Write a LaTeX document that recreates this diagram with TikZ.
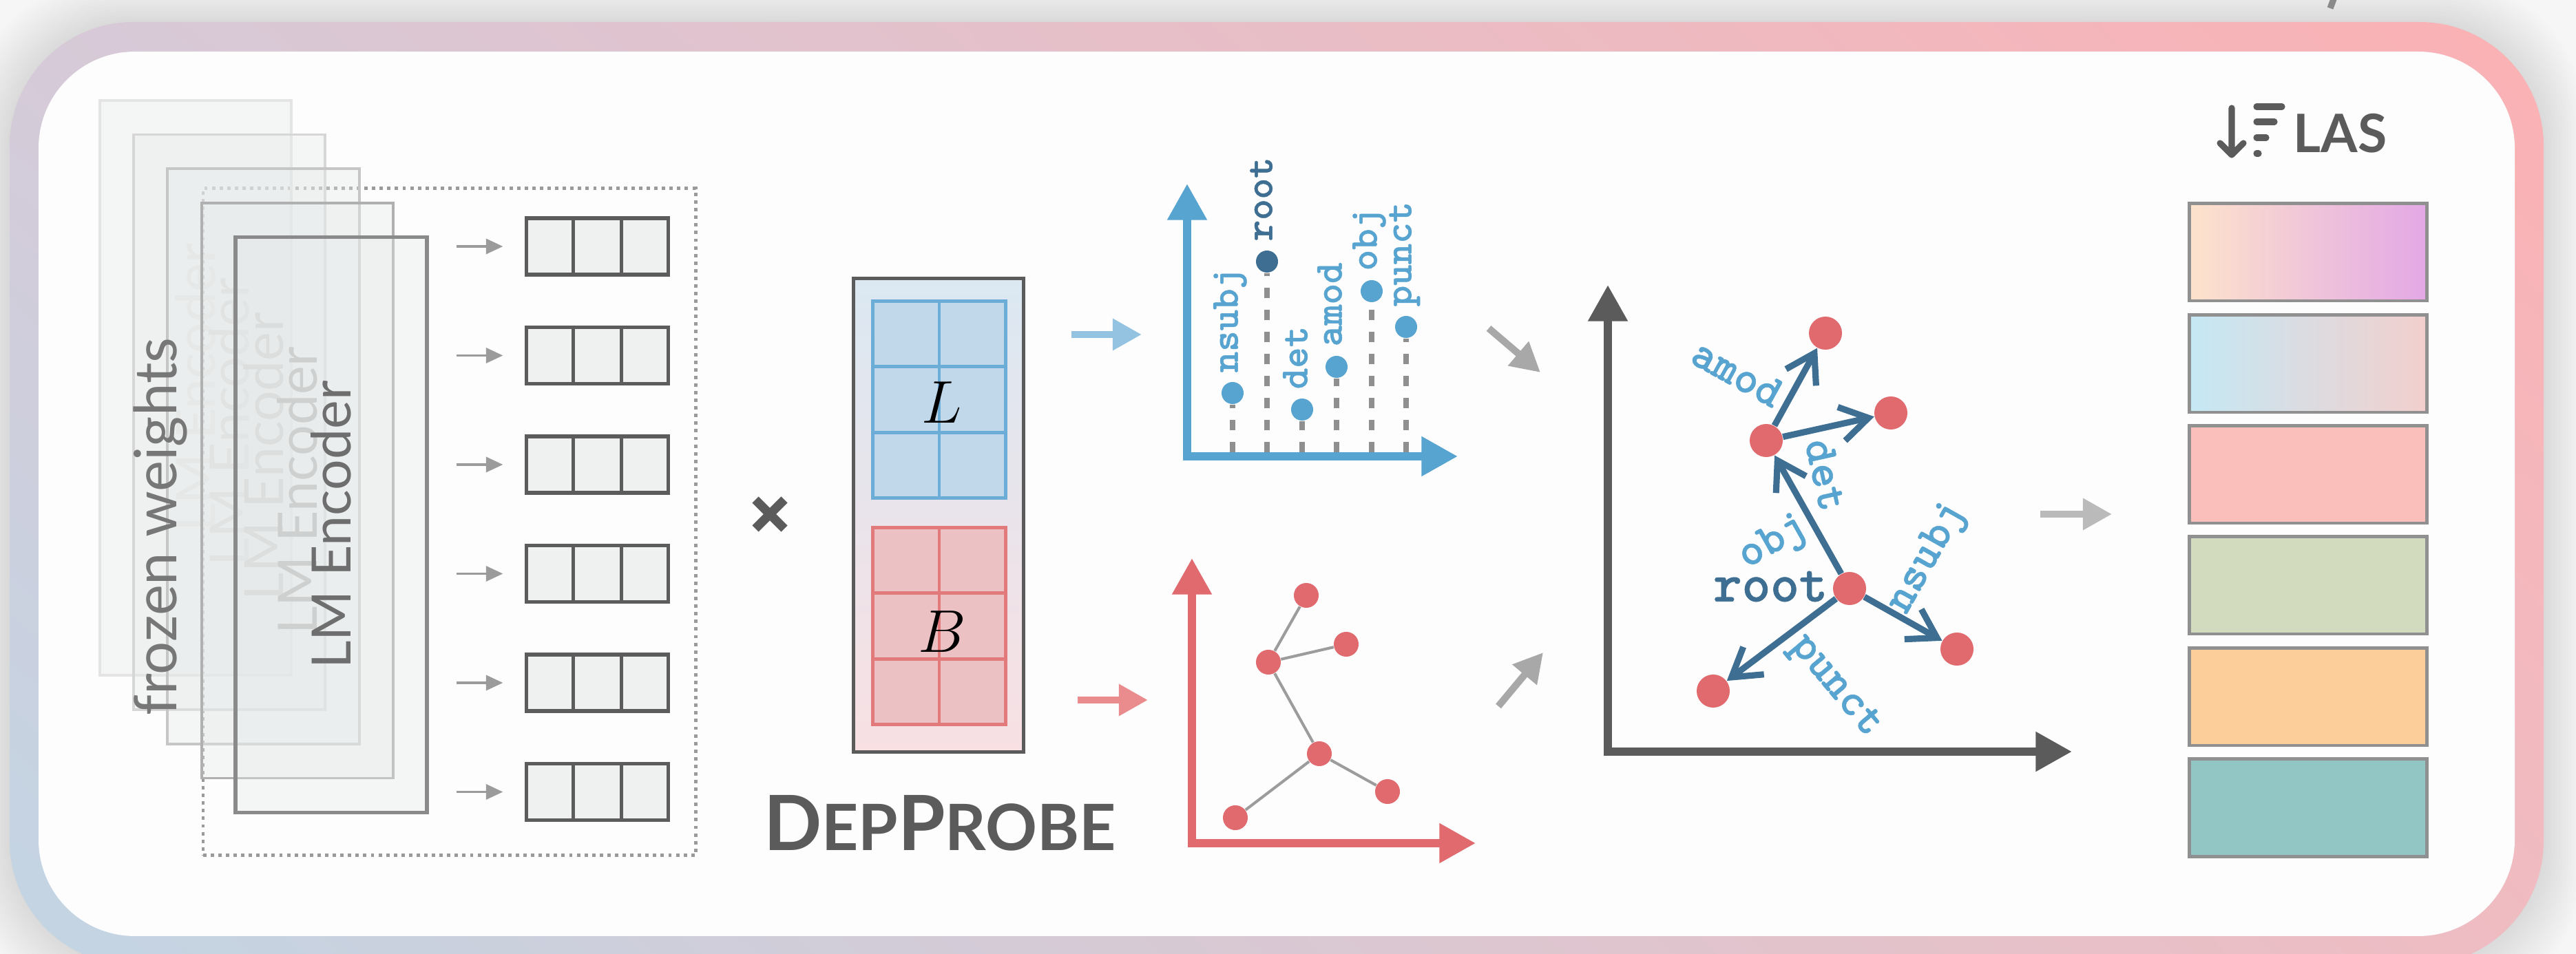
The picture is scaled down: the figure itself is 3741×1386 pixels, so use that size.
\documentclass[tikz,border=0pt]{standalone}
\usepackage{fontspec}
\newfontfamily\lato{Lato}
\newfontfamily\cour[FakeBold=0.8]{lmmonolt10-bold.otf}
\usetikzlibrary{arrows.meta,calc,shadings}
\definecolor{bgc}{HTML}{F6F6F6}
\definecolor{inwhite}{HTML}{FDFDFD}
\definecolor{fTL}{HTML}{D6CAD8}
\definecolor{fTR}{HTML}{FBB1B4}
\definecolor{fBL}{HTML}{C2D5E4}
\definecolor{fBR}{HTML}{EFBCC2}
\definecolor{encfill}{HTML}{E6E9E9}
\definecolor{enc0d}{HTML}{E4E4E4}\definecolor{enc0t}{HTML}{E8E8E8}
\definecolor{enc1d}{HTML}{D6D6D6}\definecolor{enc1t}{HTML}{DCDCDC}
\definecolor{enc2d}{HTML}{C6C6C6}\definecolor{enc2t}{HTML}{D0D0D0}
\definecolor{enc3d}{HTML}{B0B0B0}\definecolor{enc3t}{HTML}{C2C2C2}
\definecolor{enc4d}{HTML}{8A8A8A}\definecolor{enc4t}{HTML}{6E6E6E}
\definecolor{frozen}{HTML}{777777}
\definecolor{tokdraw}{HTML}{5C5C5C}
\definecolor{tokfill}{HTML}{EFF0F0}
\definecolor{smallarr}{HTML}{9B9B9B}
\definecolor{dotbox}{HTML}{9A9A9A}
\definecolor{darkg}{HTML}{5B5B5B}
\definecolor{matTop}{HTML}{DBE8F2}
\definecolor{matBot}{HTML}{F8E0E3}
\definecolor{Lfill}{HTML}{C1D8EA}
\definecolor{Ldraw}{HTML}{6BADD6}
\definecolor{Bfill}{HTML}{ECC1C4}
\definecolor{Bdraw}{HTML}{E27A7C}
\definecolor{blueArr}{HTML}{94C3E1}
\definecolor{redArr}{HTML}{EA8C8D}
\definecolor{axBlue}{HTML}{58A4D0}
\definecolor{axRed}{HTML}{E06A6E}
\definecolor{dBlue}{HTML}{3E6F92}
\definecolor{stemg}{HTML}{8F8F8F}
\definecolor{edgeg}{HTML}{9C9C9C}
\definecolor{diagg}{HTML}{A8A8A8}
\definecolor{lasArr}{HTML}{BABABA}
\definecolor{lasDraw}{HTML}{909090}
\definecolor{topmark}{HTML}{8A8A8A}
\definecolor{lbA}{HTML}{FDE3CB}
\definecolor{lbB}{HTML}{E3A8E6}
\definecolor{lbC}{HTML}{C5E8F4}
\definecolor{lbD}{HTML}{F2CFCD}
\definecolor{lbE}{HTML}{FABFBA}
\definecolor{lbF}{HTML}{D3DBBE}
\definecolor{lbG}{HTML}{FCCF9A}
\definecolor{lbH}{HTML}{92C6C5}
\tikzset{
  enclayer/.style={draw, line width=1.1pt, fill=encfill, fill opacity=0.35, text opacity=1,
    rotate=90, minimum width=8.35cm, minimum height=2.78cm, inner sep=0,
    font=\lato\fontsize{22.4}{23}\selectfont},
  tokvec/.style={draw=tokdraw, line width=1.45pt, fill=tokfill, minimum width=2.05cm,
    minimum height=0.82cm, inner sep=0},
  tokarrow/.style={draw=smallarr, line width=0.9pt, -{Triangle[length=7pt,width=6.3pt]}},
  fatarrow/.style={line width=2.9pt, -{Triangle[length=12pt,width=12.5pt]}},
  axisline/.style={line width=3.5pt, {Triangle[length=15pt,width=15.6pt]}-{Triangle[length=15pt,width=15.6pt]}},
  pdot/.style={circle, fill=axBlue, minimum size=0.32cm, inner sep=0},
  stemline/.style={draw=stemg, line width=2.3pt, dash pattern=on 4.3pt off 4.8pt},
  plabel/.style={rotate=90, anchor=mid west, inner sep=0, text=axBlue,
    font=\cour\fontsize{16.5}{16.5}\selectfont},
  rdot/.style={circle, fill=axRed, minimum size=0.36cm, inner sep=0},
  bdot/.style={circle, fill=axRed, minimum size=0.48cm, inner sep=0},
  deparc/.style={draw=dBlue, line width=2.6pt, -{Straight Barb[length=11.4pt,width=14.2pt]}},
  deplabel/.style={text=axBlue, inner sep=0, font=\cour\fontsize{19}{19}\selectfont},
  lasbar/.style={draw=lasDraw, line width=1.4pt, minimum width=3.44cm, minimum height=1.41cm, inner sep=0},
  gridbox/.style={line width=1.4pt, minimum width=1.92cm, minimum height=2.85cm, inner sep=0},
}
\begin{document}
\begin{tikzpicture}[x=0.01cm,y=-0.01cm]
\useasboundingbox (0,0) rectangle (3741,1386);
\fill[bgc] (0,0) rectangle (3741,1386);
% soft shadow
\foreach \k in {1,...,14} {
  \fill[black, opacity=0.009, rounded corners=1.9cm] (14-4*\k,32-4*\k) rectangle (3694+4*\k,1402+4*\k);
}
% frame
\shade[upper left=fTL, upper right=fTR, lower left=fBL, lower right=fBR, rounded corners=1.8cm]
  (14,32) rectangle (3694,1402);
\fill[inwhite, rounded corners=1.4cm] (56,75) rectangle (3652,1360);
\draw[topmark, line width=2.6pt] (3390,-4) -- (3384,12);

% ---------- encoder stack ----------
\node[draw=dotbox, line width=1.3pt, dash pattern=on 1.4pt off 1.75pt, minimum width=7.15cm,
  minimum height=9.68cm, inner sep=0] (grp) at (652.5,758) {};
\node[enclayer, draw=enc0d, text=enc0t] (e0) at (284,563.5) {LM Encoder};
\node[enclayer, draw=enc1d, text=enc1t] (e1) at (333.25,613.25) {LM Encoder};
\node[enclayer, draw=enc2d, text=enc2t] (e2) at (382.5,663) {LM Encoder};
\node[enclayer, draw=enc3d, text=enc3t] (e3) at (431.75,712.75) {LM Encoder};
\node[enclayer, draw=enc4d, text=enc4t, line width=1.5pt] (e4) at (481,762.5) {LM Encoder};
\node[rotate=90, inner sep=0, text=frozen, font=\lato\fontsize{24.2}{25}\selectfont] (fw) at (233,765) {frozen weights};

% token vectors
\foreach \i/\y in {1/358,2/516.5,3/675,4/833.5,5/992,6/1150.5} {
  \node[tokvec] (t\i) at (867.5,\y) {};
  \draw[tokdraw, line width=1.45pt] ($(t\i.north west)!1/3!(t\i.north east)$) -- ($(t\i.south west)!1/3!(t\i.south east)$);
  \draw[tokdraw, line width=1.45pt] ($(t\i.north west)!2/3!(t\i.north east)$) -- ($(t\i.south west)!2/3!(t\i.south east)$);
  \coordinate (a\i) at (663,\y);
  \draw[tokarrow, shorten >=0.32cm] (a\i) -- (t\i.west);
}

% times sign
\draw[darkg, line width=3.7pt] (1097,726) -- (1139,768) (1097,768) -- (1139,726);

% ---------- DepProbe matrix ----------
\node[draw=darkg, line width=1.45pt, top color=matTop, bottom color=matBot, minimum width=2.46cm,
  minimum height=6.87cm, inner sep=0] (mat) at (1363,748.5) {};
\node[gridbox, draw=Ldraw, fill=Lfill] (Lg) at (1364,580.5) {};
\draw[Ldraw, line width=1.4pt] (Lg.north) -- (Lg.south)
  ($(Lg.north west)!1/3!(Lg.south west)$) -- ($(Lg.north east)!1/3!(Lg.south east)$)
  ($(Lg.north west)!2/3!(Lg.south west)$) -- ($(Lg.north east)!2/3!(Lg.south east)$);
\node[inner sep=0] (Lt) at (1368,585) {\fontsize{24}{24}\selectfont$L$};
\node[gridbox, draw=Bdraw, fill=Bfill] (Bg) at (1364,909.5) {};
\draw[Bdraw, line width=1.4pt] (Bg.north) -- (Bg.south)
  ($(Bg.north west)!1/3!(Bg.south west)$) -- ($(Bg.north east)!1/3!(Bg.south east)$)
  ($(Bg.north west)!2/3!(Bg.south west)$) -- ($(Bg.north east)!2/3!(Bg.south east)$);
\node[inner sep=0] (Bt) at (1368,918) {\fontsize{24}{24}\selectfont$B$};
\node[anchor=base, inner sep=0, text=darkg] (dp) at (1365,1236)
  {\lato\bfseries\fontsize{31.5}{32}\selectfont D\fontsize{26.4}{27}\selectfont EP\fontsize{31.5}{32}\selectfont P\fontsize{26.4}{27}\selectfont ROBE};

\coordinate (ba1) at (1556,486); \coordinate (ba2) at (1658,486);
\draw[fatarrow, blueArr] (ba1) -- (ba2);
\coordinate (ra1) at (1565,1017); \coordinate (ra2) at (1667,1017);
\draw[fatarrow, redArr] (ra1) -- (ra2);

% ---------- label probe plot ----------
\coordinate (bY) at (1724,267); \coordinate (bO) at (1724,663); \coordinate (bX) at (2117,663);
\foreach \n/\x/\y/\c in {nsubj/1790/571/axBlue, root/1840/380/dBlue, det/1891/595/axBlue,
                         amod/1941/533/axBlue, obj/1992/423/axBlue, punct/2042/475/axBlue} {
  \coordinate (s\n) at (\x,657);
  \node[pdot, fill=\c] (p\n) at (\x,\y) {};
  \draw[stemline] (s\n) -- (p\n);
  \node[plabel, text=\c] (l\n) at (\x,\y-29) {\n};
}
\draw[axisline, axBlue] (bY) -- (bO) -- (bX);

% ---------- tree probe plot ----------
\coordinate (rY) at (1731,811); \coordinate (rO) at (1731,1225); \coordinate (rX) at (2143,1225);
\node[rdot] (n1) at (1897,865) {};
\node[rdot] (n2) at (1955,936) {};
\node[rdot] (n3) at (1842,962) {};
\node[rdot] (n4) at (1916,1095) {};
\node[rdot] (n5) at (2015,1150) {};
\node[rdot] (n6) at (1794,1188) {};
\draw[edgeg, line width=1.15pt] (n3) -- (n1) (n3) -- (n2) (n3) -- (n4) (n4) -- (n5) (n4) -- (n6);
\draw[axisline, axRed] (rY) -- (rO) -- (rX);

% gray arrows to combined plot
\coordinate (g1a) at (2162,477); \coordinate (g1b) at (2237,541);
\draw[fatarrow, diagg] (g1a) -- (g1b);
\coordinate (g2a) at (2176,1026); \coordinate (g2b) at (2241,948);
\draw[fatarrow, diagg] (g2a) -- (g2b);

% ---------- combined dependency plot ----------
\coordinate (gY) at (2335,414); \coordinate (gO) at (2335,1092); \coordinate (gX) at (3009,1092);
\draw[axisline, darkg] (gY) -- (gO) -- (gX);
\node[bdot] (A) at (2651,484) {};
\node[bdot] (D) at (2746,600) {};
\node[bdot] (M) at (2565,640) {};
\node[bdot] (R) at (2686,855) {};
\node[bdot] (S) at (2842,943) {};
\node[bdot] (P) at (2488,1004) {};
\draw[deparc] (R) -- (M);
\draw[deparc] (M) -- (A);
\draw[deparc] (M) -- (D);
\draw[deparc] (R) -- (S);
\draw[deparc] (R) -- (P);
\node[deplabel, rotate=-29] (lamod) at (2523,542) {amod};
\node[deplabel, rotate=-77.5] (ldet) at (2652,690) {det};
\node[deplabel, rotate=29.4] (lobj) at (2576,789) {obj};
\node[deplabel, rotate=60.6] (lnsubj) at (2800,811) {nsubj};
\node[deplabel, rotate=-50] (lpunct) at (2664,998) {punct};
\node[inner sep=0, text=dBlue, anchor=east, font=\cour\fontsize{22.5}{22.5}\selectfont] (lroot) at (2655,852) {root};

% ---------- LAS ----------
\coordinate (la1) at (2963,747); \coordinate (la2) at (3067,747);
\draw[fatarrow, lasArr] (la1) -- (la2);
\node[lasbar, left color=lbA, right color=lbB] (bar1) at (3352,366.5) {};
\node[lasbar, left color=lbC, right color=lbD] (bar2) at (3352,528.5) {};
\node[lasbar, fill=lbE] (bar3) at (3352,689.5) {};
\node[lasbar, fill=lbF] (bar4) at (3352,850.5) {};
\node[lasbar, fill=lbG] (bar5) at (3352,1012.5) {};
\node[lasbar, fill=lbH] (bar6) at (3352,1173.5) {};
\draw[darkg, line width=2.6pt, line cap=round, line join=round] (3241,157) -- (3241,225)
  (3224,208) -- (3241,225) -- (3258,208);
\draw[darkg, line width=2.6pt, line cap=round] (3277,155) -- (3314,155) (3277,177) -- (3303,177)
  (3277,200) -- (3291,200) (3277,223) -- (3280,223);
\node[anchor=base west, inner sep=0, text=darkg, font=\lato\bfseries\fontsize{21.9}{22}\selectfont] (las) at (3330,222) {LAS};
\end{tikzpicture}
\end{document}
